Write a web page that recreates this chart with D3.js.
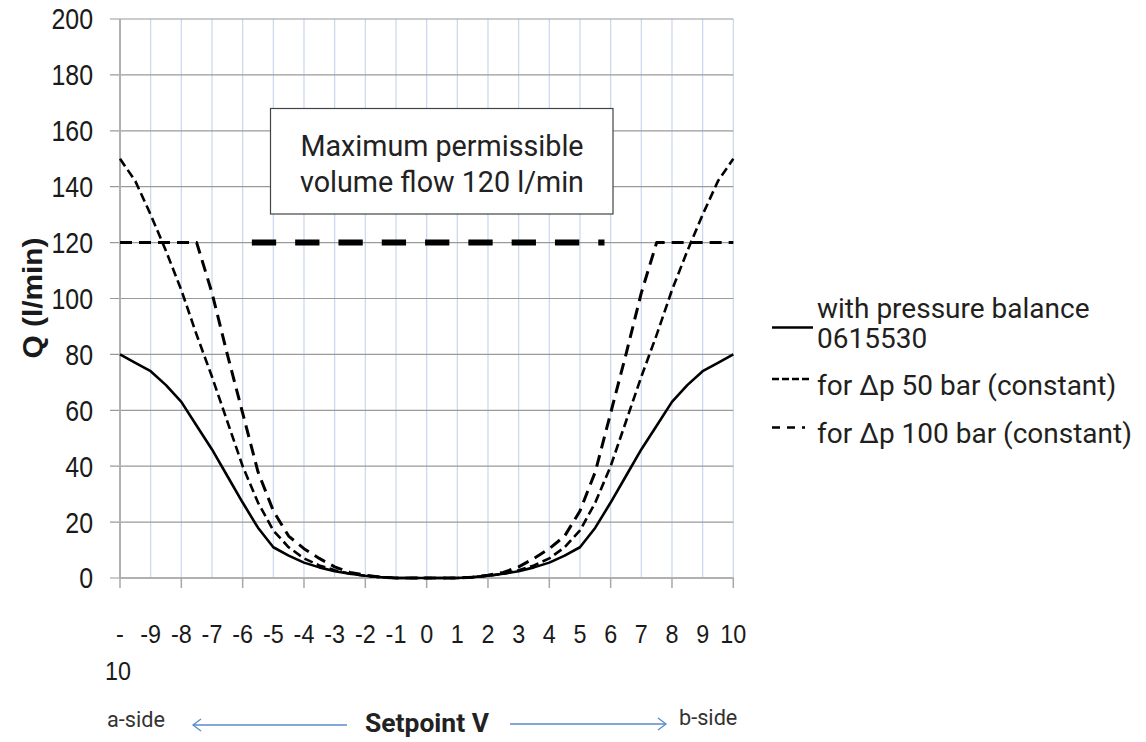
<!DOCTYPE html>
<html><head><meta charset="utf-8">
<script src="https://cdn.jsdelivr.net/npm/d3@7"></script>
<style>body{margin:0;background:#fff}</style>
</head><body>
<svg id="c" width="1146" height="742"></svg>
<script>
// ---------- data ----------
const setpoints = [-10,-9.5,-9,-8.5,-8,-7.5,-7,-6.5,-6,-5.5,-5,-4.5,-4,-3.5,-3,-2.5,-2,-1.5,-1,-0.5,0,0.5,1,1.5,2,2.5,3,3.5,4,4.5,5,5.5,6,6.5,7,7.5,8,8.5,9,9.5,10];
const qBalance = [80,77,74,69,63,54.5,46,36.5,27,18,11,8,5.5,3.8,2.4,1.5,0.8,0.3,0,0,0,0,0,0.3,0.8,1.5,2.4,3.8,5.5,8,11,18,27,36.5,46,54.5,63,69,74,77,80];
const qDp50 = [150,142,130,117,103,87,72,56,40,27,17,11,7,4.5,2.8,1.5,0.8,0.3,0,0,0,0,0,0.3,0.8,1.5,2.8,4.5,7,11,17,27,40,56,72,87,103,117,130,142,150];
const qDp100 = [120,120,120,120,120,120,102,80,59,38,24,15,10.5,7,4,2,1,0.3,0,0,0,0,0,0.3,1,2,4,7,10.5,15,24,38,59,80,102,120,120,120,120,120,120];
const maxFlowX = [-5.7, 5.8];
const maxFlowQ = [120, 120];
const yTicks = [0,20,40,60,80,100,120,140,160,180,200];
const xTickValues = [-10,-9,-8,-7,-6,-5,-4,-3,-2,-1,0,1,2,3,4,5,6,7,8,9,10];
const xTickLabels = ["-10","-9","-8","-7","-6","-5","-4","-3","-2","-1","0","1","2","3","4","5","6","7","8","9","10"];
const xMajorTicks = [-10,-8,-6,-4,-2,0,2,4,6,8,10];
const legendLabels = [["with pressure balance","0615530"],["for Δp 50 bar (constant)"],["for Δp 100 bar (constant)"]];
const annotationLines = ["Maximum permissible","volume flow 120 l/min"];
const yTitle = "Q (l/min)";
const xTitle = "Setpoint V";
const sideLabels = ["a-side","b-side"];

// ---------- setup ----------
const svg = d3.select("#c");
const x = d3.scaleLinear().domain([-10,10]).range([120,733.3]);
const y = d3.scaleLinear().domain([0,200]).range([578,19]);

const SANS = "'Liberation Sans',Arial,sans-serif";
const DIN = "Roboto,'DejaVu Sans',sans-serif";

function measure(text, family, weight, size){
  const t = svg.append("text").attr("font-family",family).attr("font-weight",weight)
    .attr("font-size",size).text(text);
  const w = t.node().getComputedTextLength();
  t.remove();
  return w;
}
function fit(text, family, weight, target){
  return 100*target/measure(text,family,weight,100);
}
// squeezed text: given font size, horizontal scale so that ref text has target width
function squeeze(ref, family, weight, size, target){
  return target/measure(ref,family,weight,size);
}
function sqText(px, py, str, size, sx, anchor, weight, rot){
  return svg.append("text")
    .attr("transform",`translate(${px},${py})${rot?` rotate(${rot})`:""} scale(${sx},1)`)
    .attr("dy","0.36em").attr("text-anchor",anchor)
    .attr("font-family",SANS).attr("font-weight",weight||"normal")
    .attr("font-size",size).attr("fill","#1a1a1a").text(str);
}

// gridlines
svg.append("g").selectAll("line").data(xTickValues.filter(d=>d>-10)).join("line")
  .attr("x1",d=>x(d)).attr("x2",d=>x(d)).attr("y1",y(200)).attr("y2",y(0))
  .attr("stroke","#c8d7f0").attr("stroke-width",1.2);
svg.append("g").selectAll("line").data(yTicks).join("line")
  .attr("x1",110).attr("x2",x(10)).attr("y1",d=>y(d)).attr("y2",d=>y(d))
  .attr("stroke","#9a9a9a").attr("stroke-width",1.2);
// axes lines
svg.append("line").attr("x1",x(-10)).attr("x2",x(-10)).attr("y1",y(200)).attr("y2",y(0))
  .attr("stroke","#b0b0b0").attr("stroke-width",2);
svg.append("line").attr("x1",x(-10)).attr("x2",x(10)).attr("y1",y(0)).attr("y2",y(0))
  .attr("stroke","#a8a8a8").attr("stroke-width",1.5);
svg.append("g").selectAll("line").data(xMajorTicks).join("line")
  .attr("x1",d=>x(d)).attr("x2",d=>x(d)).attr("y1",y(0)).attr("y2",y(0)+10)
  .attr("stroke","#a8a8a8").attr("stroke-width",1.5);

// y tick labels (tall, narrow)
const ySize = 29;
const ySx = squeeze("200", SANS, "normal", ySize, 41.6);
yTicks.forEach(v=>sqText(93, y(v), String(v), ySize, ySx, "end"));

// x tick labels (first label wraps)
const xSize = 26;
const xSx = squeeze("10", SANS, "normal", xSize, 26);
xTickValues.forEach((v,i)=>{
  const lab = xTickLabels[i];
  if(lab.length>2){
    sqText(x(v), 634, lab.slice(0,1), xSize, xSx, "middle");
    sqText(x(v)-2, 671, lab.slice(1), xSize, xSx, "middle");
  } else sqText(x(v), 634, lab, xSize, xSx, "middle");
});

// y title
const qSize = 28;
const qSx = squeeze(yTitle, SANS, "bold", qSize, 121);
sqText(32, 298, yTitle, qSize, qSx, "middle", "bold", -90).attr("dy","0.36em");

// curves
const line = d3.line().x(d=>x(d[0])).y(d=>y(d[1]));
const series = [
  {vals:qBalance, dash:null, w:2.6},
  {vals:qDp50, dash:"9,4.5", w:2.6},
  {vals:qDp100, dash:"12,7", w:3}
];
series.forEach(s=>{
  svg.append("path").attr("d",line(setpoints.map((p,i)=>[p,s.vals[i]])))
    .attr("fill","none").attr("stroke","#000").attr("stroke-width",s.w)
    .attr("stroke-dasharray",s.dash).attr("stroke-linejoin","round");
});
// max flow line
svg.append("path").attr("d",line(maxFlowX.map((p,i)=>[p,maxFlowQ[i]])))
  .attr("fill","none").attr("stroke","#000").attr("stroke-width",6).attr("stroke-dasharray","24.3,19");

// annotation box
svg.append("rect").attr("x",270.5).attr("y",108.5).attr("width",342.5).attr("height",105.5)
  .attr("fill","#fff").attr("stroke","#444").attr("stroke-width",1.2);
const aSize = fit(annotationLines[1], DIN, "normal", 284);
annotationLines.forEach((l,i)=>{
  svg.append("text").attr("x",442).attr("y",156+i*36).attr("text-anchor","middle")
    .attr("font-family",DIN).attr("font-size",aSize).attr("fill","#222").text(l);
});

// legend
const lSize = fit(legendLabels[2][0], DIN, "normal", 315);
const legRows = [
  {lines:legendLabels[0], base:[318,348], sy:327.5, dash:null, w:2.6, len:41},
  {lines:legendLabels[1], base:[395], sy:379, dash:"7,3", w:2.6, len:40},
  {lines:legendLabels[2], base:[443], sy:427.5, dash:"8,7", w:2.6, len:33}
];
legRows.forEach(r=>{
  svg.append("line").attr("x1",772).attr("x2",772+r.len).attr("y1",r.sy).attr("y2",r.sy)
    .attr("stroke","#000").attr("stroke-width",r.w).attr("stroke-dasharray",r.dash);
  r.lines.forEach((t,i)=>{
    svg.append("text").attr("x",817).attr("y",r.base[i]).attr("font-family",DIN)
      .attr("font-size",lSize).attr("fill","#231f20").text(t);
  });
});

// bottom labels
const sSize = fit(xTitle, DIN, "bold", 124);
svg.append("text").attr("x",427).attr("y",732).attr("text-anchor","middle")
  .attr("font-family",DIN).attr("font-weight","bold").attr("font-size",sSize).attr("fill","#222").text(xTitle);
const sideSize = fit(sideLabels[0], DIN, "normal", 58);
svg.append("text").attr("x",107).attr("y",727).attr("font-family",DIN).attr("font-size",sideSize).attr("fill","#333").text(sideLabels[0]);
svg.append("text").attr("x",679).attr("y",725).attr("font-family",DIN).attr("font-size",sideSize).attr("fill","#333").text(sideLabels[1]);
// arrows
const ac = "#5b8bc9";
svg.append("line").attr("x1",347).attr("x2",193).attr("y1",725).attr("y2",725).attr("stroke",ac).attr("stroke-width",1.3);
svg.append("path").attr("d","M201,719 L193,725 L201,731").attr("fill","none").attr("stroke",ac).attr("stroke-width",1.3);
svg.append("line").attr("x1",510).attr("x2",666).attr("y1",724).attr("y2",724).attr("stroke",ac).attr("stroke-width",1.3);
svg.append("path").attr("d","M658,718 L666,724 L658,730").attr("fill","none").attr("stroke",ac).attr("stroke-width",1.3);
</script>
</body></html>
